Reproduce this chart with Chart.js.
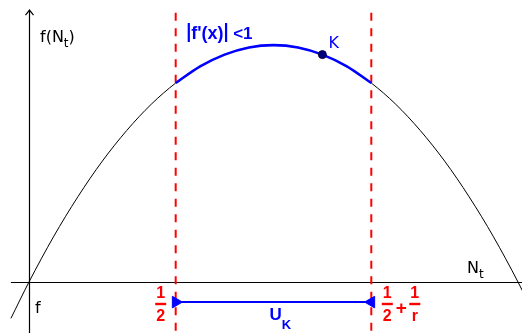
<!DOCTYPE html>
<html>
<head>
<meta charset="utf-8">
<script src="https://cdn.jsdelivr.net/npm/chart.js@4/dist/chart.umd.min.js"></script>
<style>
  html, body { margin: 0; padding: 0; background: #fff; }
  #wrap { width: 522px; height: 333px; }
</style>
</head>
<body>
<div id="wrap"><canvas id="c" width="522" height="333"></canvas></div>
<script>
// Logistic map f(N) = r·N·(1−N) with r = 2.5, sampled along N
const nValues = [-0.037, 0, 0.05, 0.1, 0.15, 0.2, 0.25, 0.3, 0.35, 0.4, 0.45, 0.5,
                 0.55, 0.6, 0.65, 0.7, 0.75, 0.8, 0.85, 0.9, 0.95, 1.0, 1.04];
const fValues = [-0.096, 0, 0.119, 0.225, 0.319, 0.4, 0.469, 0.525, 0.569, 0.6, 0.619, 0.625,
                 0.619, 0.6, 0.569, 0.525, 0.469, 0.4, 0.319, 0.225, 0.119, 0, -0.104];

// Bounds of the band where |f'(x)| < 1, i.e. 1/2 and 1/2 + 1/r
const bandBounds = [0.3, 0.7];
// Fixed point K
const fixedN = [0.6];
const fixedF = [0.6];
// Level of the U_K interval drawn under the axis
const bandLevel = [-0.053];

// Visible window
const xRange = [-0.0593, 1.0082];
const yRange = [-0.1346, 0.7441];
const xAxisStart = -0.037;
const yAxisTop = 0.7177;
const guideTop = 0.7105;

const curve = nValues.map((n, i) => ({ x: n, y: fValues[i] }));
const bandCurve = curve.filter(p => p.x >= bandBounds[0] && p.x <= bandBounds[1]);

const BLUE = '#0000ff';
const RED = '#ff0000';
const FONT = '"DejaVu Sans", Verdana, sans-serif';
const BOLD = 'bold {s}px "Liberation Sans", Arial, sans-serif';
const bold = s => BOLD.replace('{s}', s);

// Axes with an open arrow on the vertical one
const axesPlugin = {
  id: 'axes',
  beforeDatasetsDraw(chart) {
    const { ctx, scales: { x, y } } = chart;
    const x0 = Math.round(x.getPixelForValue(0)) + 0.5;
    const y0 = Math.round(y.getPixelForValue(0)) + 0.5;
    const yt = y.getPixelForValue(yAxisTop);
    ctx.save();
    ctx.strokeStyle = '#000';
    ctx.lineWidth = 1.2;
    ctx.beginPath();
    ctx.moveTo(x.getPixelForValue(xAxisStart), y0);
    ctx.lineTo(chart.width, y0);
    ctx.moveTo(x0, chart.height);
    ctx.lineTo(x0, yt);
    ctx.moveTo(x0 - 4, yt + 5);
    ctx.lineTo(x0, yt);
    ctx.lineTo(x0 + 4, yt + 5);
    ctx.stroke();
    ctx.restore();
  }
};

function subText(ctx, main, sub, x, y, size, subSize, drop) {
  ctx.font = size + 'px ' + FONT;
  ctx.fillText(main, x, y);
  const w = ctx.measureText(main).width;
  ctx.font = subSize + 'px ' + FONT;
  ctx.fillText(sub, x + w, y + drop);
  return x + w + ctx.measureText(sub).width;
}

function fraction(ctx, num, den, cx, barY, color) {
  ctx.fillStyle = color;
  ctx.font = bold(16);
  ctx.textAlign = 'center';
  ctx.fillText(num, cx, barY - 6);
  ctx.fillText(den, cx, barY + 17);
  ctx.fillRect(cx - 5.5, barY - 1.2, 11, 2.4);
  ctx.textAlign = 'left';
}

const labelsPlugin = {
  id: 'labels',
  afterDatasetsDraw(chart) {
    const { ctx, scales: { x, y } } = chart;
    ctx.save();
    ctx.textBaseline = 'alphabetic';

    // axis titles
    ctx.fillStyle = '#000';
    let end = subText(ctx, 'f(N', 't', 40, 42, 16, 12, 5);
    ctx.font = '16px ' + FONT;
    ctx.fillText(')', end, 42);
    subText(ctx, 'N', 't', 467, 273, 16, 12, 5);
    ctx.font = '16px ' + FONT;
    ctx.fillText('f', 35, 313);

    // K label beside the fixed point
    const kx = x.getPixelForValue(fixedN[0]);
    const ky = y.getPixelForValue(fixedF[0]);
    ctx.fillStyle = BLUE;
    ctx.font = '16px ' + FONT;
    ctx.fillText('K', kx + 6, ky - 7);

    // |f'(x)| < 1
    const lx = x.getPixelForValue(bandBounds[0]) + 12;
    ctx.fillStyle = BLUE;
    ctx.fillRect(lx, 23, 2.2, 19);
    ctx.font = bold(18);
    ctx.fillText("f'(x)", lx + 3.5, 39);
    const fw = ctx.measureText("f'(x)").width;
    ctx.fillRect(lx + 5 + fw, 23, 2.2, 19);
    ctx.font = bold(17);
    ctx.fillText('<1', lx + 45.5, 39);

    // band bounds under the axis
    const bl = x.getPixelForValue(bandBounds[0]);
    const br = x.getPixelForValue(bandBounds[1]);
    fraction(ctx, '1', '2', bl - 15, 304, RED);
    fraction(ctx, '1', '2', br + 16, 304, RED);
    ctx.font = bold(19);
    ctx.textAlign = 'center';
    ctx.fillText('+', br + 30, 314);
    ctx.textAlign = 'left';
    fraction(ctx, '1', 'r', br + 43.5, 304, RED);

    // U_K
    ctx.fillStyle = BLUE;
    const ux = (bl + br) / 2 - 4;
    ctx.font = bold(17);
    ctx.fillText('U', ux, 319.5);
    const uw = ctx.measureText('U').width;
    ctx.font = bold(13);
    ctx.fillText('K', ux + uw, 329);

    ctx.restore();
  }
};

const guide = n => [{ x: n, y: guideTop }, { x: n, y: yRange[0] }];

new Chart(document.getElementById('c'), {
  type: 'scatter',
  data: {
    datasets: [
      {
        // fixed point K
        data: fixedN.map((n, i) => ({ x: n, y: fixedF[i] })),
        pointRadius: 4,
        pointBackgroundColor: '#00007a',
        pointBorderColor: '#00003a',
        pointBorderWidth: 1,
        showLine: false,
        clip: false
      },
      {
        // U_K interval with inward arrowheads
        data: bandBounds.map(n => ({ x: n, y: bandLevel[0] })),
        showLine: true,
        borderColor: BLUE,
        borderWidth: 2,
        pointStyle: 'triangle',
        pointRadius: 6.7,
        pointRotation: [90, -90],
        pointBackgroundColor: BLUE,
        pointBorderColor: BLUE,
        pointBorderWidth: 1,
        clip: false
      },
      {
        // part of the map inside the band
        data: bandCurve,
        showLine: true,
        borderColor: BLUE,
        borderWidth: 2.6,
        cubicInterpolationMode: 'monotone',
        pointRadius: 0
      },
      {
        data: guide(bandBounds[0]),
        showLine: true,
        borderColor: RED,
        borderWidth: 2,
        borderDash: [8, 7.5],
        pointRadius: 0
      },
      {
        data: guide(bandBounds[1]),
        showLine: true,
        borderColor: RED,
        borderWidth: 2,
        borderDash: [8, 7.5],
        pointRadius: 0
      },
      {
        // the whole map
        data: curve,
        showLine: true,
        borderColor: '#000',
        borderWidth: 1,
        cubicInterpolationMode: 'monotone',
        pointRadius: 0
      }
    ]
  },
  options: {
    responsive: false,
    animation: false,
    events: [],
    layout: { padding: 0, autoPadding: false },
    plugins: { legend: { display: false }, tooltip: { enabled: false } },
    scales: {
      x: { type: 'linear', display: false, min: xRange[0], max: xRange[1] },
      y: { type: 'linear', display: false, min: yRange[0], max: yRange[1] }
    }
  },
  plugins: [axesPlugin, labelsPlugin]
});
</script>
</body>
</html>
